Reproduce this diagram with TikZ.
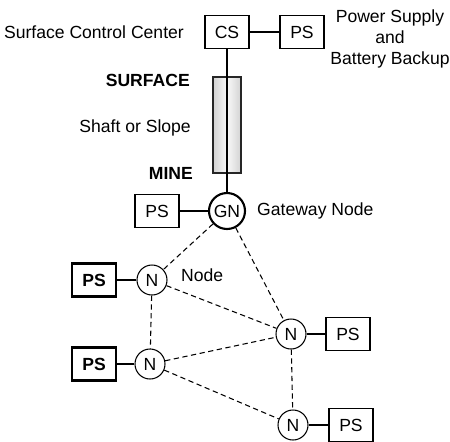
\documentclass[tikz,border=0pt]{standalone}
\usepackage{fontspec}
\setmainfont{Liberation Sans}
\usetikzlibrary{positioning}

\begin{document}
\begin{tikzpicture}[x=0.02cm,y=-0.02cm,node distance=1.15cm,
	box/.style={draw,line width=0.7pt,minimum width=0.88cm,minimum height=0.66cm,inner sep=0pt},
	boldbox/.style={box,line width=1.3pt,font=\bfseries},
	gate/.style={draw,circle,line width=1.2pt,minimum size=0.72cm,inner sep=0pt},
	mesh/.style={draw,circle,line width=0.6pt,minimum size=0.6cm,inner sep=0pt},
	link/.style={dash pattern=on 3pt off 2pt,line width=0.6pt},
	feed/.style={line width=1.1pt}]

\useasboundingbox (0,0) rectangle (450,441);

% shaft
\shade[left color=gray!35,right color=gray!35,middle color=gray!5] (213,77) rectangle (241,173);
\draw[line width=0.6pt,black!85] (213,77) rectangle (241,173);

\node[box]   (cs)  at (227,32)  	{CS};
 \node[box]    (ps0) [right of=cs,node distance=1.5cm]  	{PS};
	\node[gate]   (gn)  at (227,211)      {GN};
	\node[box]    (ps1) [left of=gn,node distance=1.4cm]  	{PS};

\node[mesh] (n1) at (152,280) {N};
	\node[mesh] (n2) at (291,334) {N};
	\node[mesh] (n3) at (150,364) {N};
	\node[mesh] (n4) at (293,425) {N};

\node[boldbox] (ps2) [left of=n1,node distance=1.16cm]  {PS};
	\node[boldbox] (ps4) [left of=n3,node distance=1.12cm]  {PS};
	\node[box,line width=1.1pt] (ps3) [right of=n2,node distance=1.14cm] {PS};
	\node[box,line width=1.1pt] (ps5) [right of=n4,node distance=1.16cm] {PS};

% labels
\node[anchor=east] (surfctl) at (190,32) {Surface Control Center};
	\node[align=center] (pstext) at (390,39) {Power Supply\\and\\Battery Backup};
\node[anchor=east,font=\bfseries] (surface) at (196,80) {SURFACE};
	\node[anchor=east] (shaft) at (197,128) {Shaft or Slope};
	\node[anchor=east,font=\bfseries] (mine) at (199,173) {MINE};
\node[anchor=west] (gntext) at (251,211) {Gateway Node};
	\node[anchor=west] (ntext) at (175,275) {Node};

\path[line width=0.7pt] (cs) edge (ps0)
				(cs) edge (gn)
		(gn) edge (ps1);

	\path[feed] (n1) edge (ps2)
			(n3) edge (ps4)
				(n2) edge (ps3)
			(n4) edge (ps5);

\path[link] (gn) edge (n1)
						edge (n2)
		(n1) edge (n2)
					edge (n3)
			(n3) edge (n2)
					edge (n4)
		(n2) edge (n4);

\end{tikzpicture}
\end{document}
